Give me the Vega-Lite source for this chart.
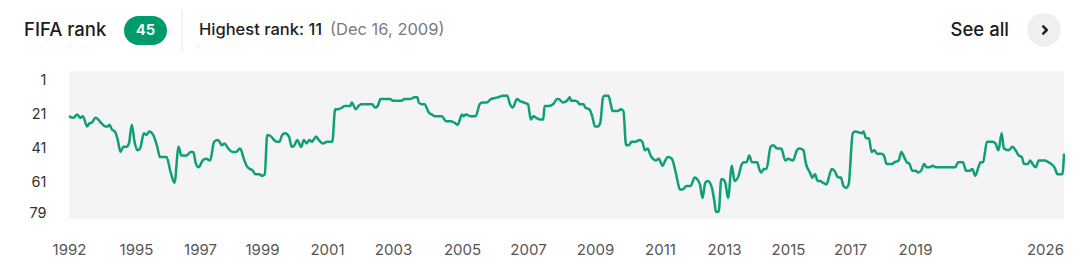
{
  "$schema": "https://vega.github.io/schema/vega-lite/v6.json",
  "width": 995,
  "height": 148,
  "autosize": "none",
  "padding": {"left": 69, "top": 71, "right": 16, "bottom": 60},
  "background": "white",
  "view": {"fill": "#f4f4f4", "stroke": null},
  "config": {"font": "Inter", "axis": {"title": null, "labelOverlap": false}},
  "resolve": {"scale": {"x": "independent", "y": "independent"}},
  "datasets": {
    "ranking": [
      {"date":"1992-12-31","rank":23},{"date":"1993-02-16","rank":24},{"date":"1993-04-01","rank":22},{"date":"1993-05-01","rank":24},{"date":"1993-06-01","rank":23},{"date":"1993-07-16","rank":29},{"date":"1993-08-16","rank":27},{"date":"1993-09-01","rank":27},{"date":"1993-10-16","rank":24},{"date":"1993-11-16","rank":25},{"date":"1993-12-16","rank":27},
      {"date":"1994-02-01","rank":29},{"date":"1994-03-01","rank":29},{"date":"1994-03-16","rank":28},{"date":"1994-04-16","rank":31},{"date":"1994-05-16","rank":32},{"date":"1994-06-16","rank":37},{"date":"1994-07-16","rank":44},{"date":"1994-08-16","rank":41},{"date":"1994-09-16","rank":41},{"date":"1994-10-16","rank":39},{"date":"1994-11-16","rank":28},{"date":"1994-12-16","rank":38},
      {"date":"1995-01-16","rank":43},{"date":"1995-02-16","rank":42},{"date":"1995-04-01","rank":33},{"date":"1995-05-01","rank":34},{"date":"1995-06-01","rank":32},{"date":"1995-07-16","rank":34},{"date":"1995-09-01","rank":41},{"date":"1995-10-01","rank":47},{"date":"1995-12-16","rank":47},
      {"date":"1996-02-01","rank":56},{"date":"1996-03-16","rank":62},{"date":"1996-05-01","rank":41},{"date":"1996-06-01","rank":46},{"date":"1996-08-01","rank":46},{"date":"1996-09-16","rank":44},{"date":"1996-10-16","rank":44},{"date":"1996-11-16","rank":51},{"date":"1996-12-16","rank":53},
      {"date":"1997-02-01","rank":49},{"date":"1997-03-16","rank":48},{"date":"1997-05-01","rank":49},{"date":"1997-06-16","rank":38},{"date":"1997-08-01","rank":37},{"date":"1997-09-16","rank":40},{"date":"1997-10-16","rank":39},{"date":"1997-12-01","rank":42},
      {"date":"1998-01-16","rank":44},{"date":"1998-03-01","rank":44},{"date":"1998-04-16","rank":42},{"date":"1998-05-01","rank":43},{"date":"1998-06-01","rank":48},{"date":"1998-07-16","rank":53},{"date":"1998-09-16","rank":55},{"date":"1998-10-16","rank":57},{"date":"1998-12-01","rank":57},
      {"date":"1999-01-01","rank":58},{"date":"1999-02-01","rank":57},{"date":"1999-03-01","rank":34},{"date":"1999-04-16","rank":35},{"date":"1999-05-01","rank":36},{"date":"1999-06-16","rank":38},{"date":"1999-07-16","rank":38},{"date":"1999-08-16","rank":34},{"date":"1999-09-16","rank":33},{"date":"1999-11-01","rank":35},{"date":"1999-12-01","rank":41},
      {"date":"2000-01-01","rank":40},{"date":"2000-02-01","rank":37},{"date":"2000-03-16","rank":41},{"date":"2000-04-16","rank":37},{"date":"2000-05-16","rank":39},{"date":"2000-06-16","rank":37},{"date":"2000-07-16","rank":38},{"date":"2000-08-01","rank":37},{"date":"2000-09-01","rank":35},{"date":"2000-10-01","rank":37},{"date":"2000-11-16","rank":39},
      {"date":"2001-01-01","rank":38},{"date":"2001-03-01","rank":38},{"date":"2001-04-01","rank":19},{"date":"2001-05-01","rank":19},{"date":"2001-06-16","rank":18},{"date":"2001-07-16","rank":17},{"date":"2001-09-16","rank":17},{"date":"2001-10-01","rank":15},{"date":"2001-11-16","rank":19},{"date":"2001-12-16","rank":17},
      {"date":"2002-01-16","rank":16},{"date":"2002-03-01","rank":16},{"date":"2002-05-16","rank":16},{"date":"2002-06-16","rank":18},{"date":"2002-07-16","rank":17},{"date":"2002-08-16","rank":13},{"date":"2002-10-01","rank":13},{"date":"2002-12-01","rank":13},
      {"date":"2003-01-01","rank":14},{"date":"2003-04-01","rank":14},{"date":"2003-05-01","rank":13},{"date":"2003-07-01","rank":13},{"date":"2003-08-16","rank":12},{"date":"2003-09-16","rank":12},{"date":"2003-10-01","rank":15},{"date":"2003-11-01","rank":16},{"date":"2003-12-01","rank":16},
      {"date":"2004-01-16","rank":21},{"date":"2004-02-16","rank":22},{"date":"2004-03-16","rank":23},{"date":"2004-06-01","rank":23},{"date":"2004-07-16","rank":26},{"date":"2004-09-01","rank":26},{"date":"2004-10-16","rank":27},{"date":"2004-11-16","rank":28},
      {"date":"2005-01-01","rank":22},{"date":"2005-01-16","rank":23},{"date":"2005-02-16","rank":22},{"date":"2005-04-01","rank":23},{"date":"2005-06-01","rank":23},{"date":"2005-07-16","rank":16},{"date":"2005-08-16","rank":15},{"date":"2005-10-01","rank":15},{"date":"2005-11-16","rank":13},
      {"date":"2006-02-01","rank":12},{"date":"2006-04-01","rank":11},{"date":"2006-05-16","rank":11},{"date":"2006-06-16","rank":16},{"date":"2006-07-16","rank":18},{"date":"2006-09-01","rank":13},{"date":"2006-10-01","rank":14},{"date":"2006-11-16","rank":15},
      {"date":"2007-01-01","rank":16},{"date":"2007-02-01","rank":25},{"date":"2007-03-01","rank":23},{"date":"2007-04-01","rank":24},{"date":"2007-05-16","rank":25},{"date":"2007-06-16","rank":25},{"date":"2007-07-01","rank":17},{"date":"2007-08-16","rank":17},{"date":"2007-10-01","rank":16},{"date":"2007-11-16","rank":13},{"date":"2007-12-01","rank":13},
      {"date":"2008-01-16","rank":15},{"date":"2008-03-01","rank":14},{"date":"2008-04-01","rank":12},{"date":"2008-04-16","rank":14},{"date":"2008-06-01","rank":14},{"date":"2008-07-01","rank":15},{"date":"2008-07-16","rank":16},{"date":"2008-09-01","rank":16},{"date":"2008-09-16","rank":18},{"date":"2008-11-01","rank":19},{"date":"2008-12-01","rank":23},
      {"date":"2009-01-01","rank":29},{"date":"2009-02-01","rank":29},{"date":"2009-03-01","rank":27},{"date":"2009-04-01","rank":12},{"date":"2009-04-16","rank":11},{"date":"2009-06-01","rank":11},{"date":"2009-07-01","rank":17},{"date":"2009-07-16","rank":20},{"date":"2009-09-16","rank":20},{"date":"2009-10-16","rank":19},{"date":"2009-11-16","rank":20},{"date":"2009-12-16","rank":40},
      {"date":"2010-01-16","rank":40},{"date":"2010-02-16","rank":38},{"date":"2010-04-01","rank":38},{"date":"2010-05-16","rank":37},{"date":"2010-06-16","rank":38},{"date":"2010-07-16","rank":43},{"date":"2010-08-16","rank":42},{"date":"2010-09-16","rank":46},{"date":"2010-10-16","rank":48},{"date":"2010-11-16","rank":49},{"date":"2010-12-16","rank":48},
      {"date":"2011-02-01","rank":52},{"date":"2011-03-01","rank":49},{"date":"2011-04-01","rank":47},{"date":"2011-05-16","rank":48},{"date":"2011-06-16","rank":53},{"date":"2011-07-16","rank":60},{"date":"2011-08-16","rank":66},{"date":"2011-09-16","rank":66},{"date":"2011-11-01","rank":64},{"date":"2011-12-16","rank":64},
      {"date":"2012-02-01","rank":59},{"date":"2012-03-01","rank":60},{"date":"2012-04-01","rank":63},{"date":"2012-05-01","rank":71},{"date":"2012-06-01","rank":62},{"date":"2012-07-01","rank":61},{"date":"2012-08-16","rank":65},{"date":"2012-09-16","rank":74},{"date":"2012-10-01","rank":79},{"date":"2012-11-01","rank":79},{"date":"2012-12-01","rank":60},{"date":"2012-12-16","rank":60},
      {"date":"2013-01-16","rank":62},{"date":"2013-02-16","rank":71},{"date":"2013-04-01","rank":52},{"date":"2013-05-01","rank":61},{"date":"2013-06-16","rank":58},{"date":"2013-07-16","rank":52},{"date":"2013-08-16","rank":50},{"date":"2013-09-16","rank":50},{"date":"2013-10-16","rank":46},{"date":"2013-11-16","rank":50},
      {"date":"2014-01-16","rank":50},{"date":"2014-02-01","rank":53},{"date":"2014-03-01","rank":56},{"date":"2014-04-01","rank":54},{"date":"2014-05-01","rank":54},{"date":"2014-06-16","rank":41},{"date":"2014-07-16","rank":40},{"date":"2014-09-01","rank":42},{"date":"2014-10-16","rank":42},{"date":"2014-12-01","rank":49},
      {"date":"2015-01-01","rank":48},{"date":"2015-03-01","rank":49},{"date":"2015-04-16","rank":43},{"date":"2015-05-16","rank":42},{"date":"2015-07-01","rank":43},{"date":"2015-08-01","rank":51},{"date":"2015-09-16","rank":56},{"date":"2015-10-16","rank":59},{"date":"2015-11-16","rank":57},{"date":"2015-12-16","rank":61},
      {"date":"2016-01-16","rank":61},{"date":"2016-02-16","rank":62},{"date":"2016-04-01","rank":63},{"date":"2016-05-01","rank":58},{"date":"2016-06-01","rank":54},{"date":"2016-07-01","rank":55},{"date":"2016-08-16","rank":59},{"date":"2016-09-16","rank":59},{"date":"2016-10-16","rank":64},{"date":"2016-11-16","rank":65},{"date":"2016-12-16","rank":63},
      {"date":"2017-02-01","rank":33},{"date":"2017-03-01","rank":32},{"date":"2017-05-16","rank":33},{"date":"2017-06-01","rank":32},{"date":"2017-07-01","rank":36},{"date":"2017-08-01","rank":36},{"date":"2017-09-01","rank":44},{"date":"2017-10-01","rank":43},{"date":"2017-11-01","rank":45},{"date":"2017-12-16","rank":45},
      {"date":"2018-01-16","rank":46},{"date":"2018-02-16","rank":51},{"date":"2018-04-16","rank":51},{"date":"2018-05-16","rank":50},{"date":"2018-07-01","rank":49},{"date":"2018-08-01","rank":44},{"date":"2018-09-01","rank":47},{"date":"2018-10-01","rank":50},{"date":"2018-11-01","rank":51},{"date":"2018-12-01","rank":55},
      {"date":"2019-01-16","rank":55},{"date":"2019-03-01","rank":56},{"date":"2019-05-01","rank":55},{"date":"2019-07-01","rank":51},{"date":"2019-08-16","rank":53},{"date":"2019-10-16","rank":53},{"date":"2019-12-16","rank":52},
      {"date":"2020-02-16","rank":53},
      {"date":"2021-03-01","rank":53},{"date":"2021-05-01","rank":50},{"date":"2021-08-01","rank":50},{"date":"2021-10-01","rank":55},{"date":"2021-12-16","rank":55},
      {"date":"2022-02-01","rank":54},{"date":"2022-04-01","rank":58},{"date":"2022-06-01","rank":53},{"date":"2022-07-16","rank":50},{"date":"2022-09-01","rank":50},{"date":"2022-11-16","rank":38},
      {"date":"2023-01-16","rank":38},{"date":"2023-03-01","rank":38},{"date":"2023-05-01","rank":39},{"date":"2023-07-01","rank":43},{"date":"2023-09-01","rank":33},{"date":"2023-10-16","rank":42},
      {"date":"2024-01-16","rank":43},{"date":"2024-04-01","rank":41},{"date":"2024-06-01","rank":43},{"date":"2024-08-01","rank":46},{"date":"2024-10-01","rank":47},{"date":"2024-11-16","rank":51},
      {"date":"2025-02-01","rank":51},{"date":"2025-03-16","rank":49},{"date":"2025-05-01","rank":51},{"date":"2025-07-01","rank":53},{"date":"2025-09-01","rank":49},
      {"date":"2026-01-01","rank":49},{"date":"2026-02-01","rank":50},{"date":"2026-03-01","rank":51},{"date":"2026-04-01","rank":53},{"date":"2026-05-01","rank":57},{"date":"2026-06-16","rank":57},{"date":"2026-07-01","rank":45}
    ],
    "summary": [{"current": 45, "highest": 11, "highestDate": "Dec 16, 2009"}]
  },
  "layer": [
    {
      "data": {"name": "ranking", "format": {"parse": {"date": "date"}}},
      "mark": {"type": "line", "interpolate": "monotone", "strokeWidth": 2.5, "color": "#0f9f74"},
      "encoding": {
        "x": {
          "field": "date", "type": "quantitative",
          "scale": {
            "type": "linear", "nice": false, "zero": false,
            "domain": [725760000000, 788918400000, 852076800000, 915148800000, 978307200000, 1041379200000, 1104537600000, 1167609600000, 1230768000000, 1293840000000, 1356998400000, 1420070400000, 1483228800000, 1546300800000, 1767225600000, 1782864000000],
            "range": [0, 67, 131, 193, 258, 324, 393, 459, 526, 591, 655, 719, 781, 846, 976, 995]
          },
          "axis": {
            "title": null, "domain": false, "ticks": false, "grid": false,
            "values": [725760000000, 788918400000, 852076800000, 915148800000, 978307200000, 1041379200000, 1104537600000, 1167609600000, 1230768000000, 1293840000000, 1356998400000, 1420070400000, 1483228800000, 1546300800000, 1767225600000],
            "labelExpr": "utcFormat(datum.value, '%Y')",
            "labelFlush": false, "labelOverlap": false, "labelBound": false,
            "labelFont": "Inter", "labelFontSize": 15, "labelColor": "#555555", "labelPadding": 23
          }
        },
        "y": {
          "field": "rank", "type": "quantitative",
          "scale": {"domain": [1, 79], "range": [7.6, 140.7], "nice": false, "zero": false},
          "axis": {
            "title": null, "domain": false, "ticks": false, "grid": false,
            "values": [1, 21, 41, 61, 79], "labelOverlap": false,
            "labelFont": "Inter", "labelFontSize": 14.5, "labelColor": "#333333", "labelPadding": 23, "labelOffset": 2
          }
        }
      }
    },
    {
      "data": {"name": "summary"},
      "encoding": {
        "x": {
          "datum": 0, "type": "quantitative", "axis": null,
          "scale": {"nice": false, "zero": false, "domain": [0, 995], "range": [0, 995]}
        },
        "y": {
          "datum": 1, "type": "quantitative", "axis": null,
          "scale": {"domain": [1, 79], "range": [7.6, 140.7], "nice": false, "zero": false}
        }
      },
      "layer": [
        {"mark": {"type": "text", "text": "FIFA rank", "align": "left", "baseline": "middle", "dx": -45, "dy": -48.6, "fontSize": 18.5, "fontWeight": 500, "color": "#1c1c1c"}},
        {"mark": {"type": "rect", "cornerRadius": 14.5, "color": "#009b6b", "xOffset": 55, "x2Offset": 98, "yOffset": -62.6, "y2Offset": -33.6},
         "encoding": {"x2": {"datum": 0}, "y2": {"datum": 1}}},
        {"mark": {"type": "text", "align": "center", "baseline": "middle", "dx": 76.5, "dy": -48.6, "fontSize": 15, "fontWeight": 600, "color": "white"},
         "encoding": {"text": {"field": "current"}}},
        {"mark": {"type": "rule", "color": "#e8e8e8", "strokeWidth": 1, "xOffset": 113, "yOffset": -68.6, "y2Offset": -26.6},
         "encoding": {"y2": {"datum": 1}}},
        {"mark": {"type": "text", "text": "Highest rank: 11", "align": "left", "baseline": "middle", "dx": 130, "dy": -48.6, "fontSize": 16.5, "fontWeight": 500, "color": "#222222"}},
        {"mark": {"type": "text", "text": "(Dec 16, 2009)", "align": "left", "baseline": "middle", "dx": 261, "dy": -48.6, "fontSize": 16.5, "fontWeight": 400, "color": "#7a7a7a"}},
        {"mark": {"type": "text", "text": "See all", "align": "right", "baseline": "middle", "dx": 940, "dy": -48.6, "fontSize": 18.5, "fontWeight": 500, "color": "#1c1c1c"}},
        {"mark": {"type": "point", "shape": "circle", "filled": true, "size": 1134, "color": "#efefef", "opacity": 1, "xOffset": 975, "yOffset": -48.6}},
        {"mark": {"type": "point", "shape": "M -0.3,-0.6 L 0.3,0 L -0.3,0.6", "filled": false, "size": 144, "stroke": "#222222", "strokeWidth": 2.5, "opacity": 1, "strokeCap": "round", "strokeJoin": "round", "xOffset": 976, "yOffset": -48.6}}
      ]
    }
  ]
}
